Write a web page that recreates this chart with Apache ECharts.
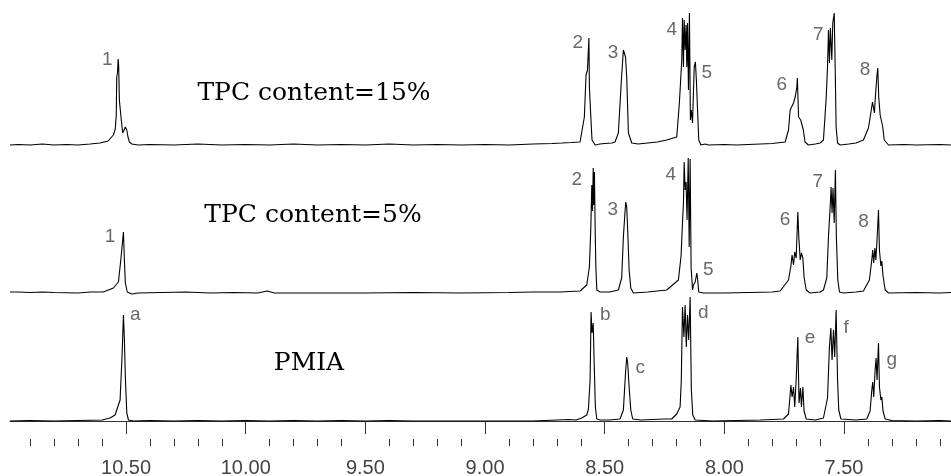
<!DOCTYPE html>
<html>
<head>
<meta charset="utf-8">
<style>html,body{margin:0;padding:0;background:#fff;}#chart{width:951px;height:476px;}</style>
<script src="https://cdn.jsdelivr.net/npm/echarts@6/dist/echarts.min.js"></script>
</head>
<body>
<div id="chart"></div>
<script>
// chemical shift (ppm), intensity (arbitrary units) for each spectrum
var top15 = [
[10.985,0],[10.95,0.5],[10.90,0],[10.85,1],[10.80,0],[10.75,0.5],[10.70,0],[10.65,1],[10.609,2],[10.575,4],[10.553,10],[10.545,16],[10.541,30],[10.539,68],[10.536,72],[10.533,86],[10.531,80],[10.528,45],[10.525,43],[10.520,25],[10.514,12],[10.508,14],[10.503,18],[10.500,19],[10.497,15],[10.492,8],[10.486,3],[10.476,1],[10.45,0],[10.40,0.5],[10.30,0],[10.20,1],[10.10,0],[10.00,0.5],[9.90,0],[9.80,1],[9.70,0],[9.60,0.5],[9.50,0],[9.40,1],[9.30,0],[9.20,0.5],[9.10,0],[9.00,0.5],[8.90,0],[8.80,1],[8.72,1.5],[8.679,2],[8.64,2.5],[8.603,3],[8.585,28],[8.578,70],[8.572,75],[8.566,107],[8.564,58],[8.558,28],[8.553,5],[8.540,0],[8.52,1],[8.50,1.5],[8.47,2],[8.457,3],[8.443,12],[8.429,70],[8.422,95],[8.418,97],[8.413,88],[8.408,68],[8.401,12],[8.387,2],[8.36,1],[8.32,2],[8.28,3],[8.241,5],[8.199,8],[8.188,42],[8.178,85],[8.175,127],[8.171,78],[8.168,125],[8.164,95],[8.160,120],[8.157,78],[8.154,122],[8.150,55],[8.146,132],[8.142,25],[8.138,35],[8.133,22],[8.126,78],[8.121,83],[8.117,65],[8.112,35],[8.107,5],[8.098,0],[8.080,1],[8.073,3],[8.067,0],[8.00,0.5],[7.95,0],[7.90,0.5],[7.85,1],[7.80,1.5],[7.746,3],[7.732,15],[7.725,35],[7.718,37],[7.711,42],[7.704,48],[7.697,58],[7.695,67],[7.690,28],[7.686,30],[7.681,25],[7.676,27],[7.670,15],[7.663,3],[7.649,0],[7.62,1],[7.60,2],[7.586,5],[7.575,45],[7.569,78],[7.565,115],[7.561,82],[7.557,117],[7.551,85],[7.547,122],[7.541,132],[7.537,78],[7.533,18],[7.527,2],[7.516,0],[7.48,1],[7.45,2],[7.419,5],[7.398,17],[7.388,32],[7.381,43],[7.377,45],[7.373,32],[7.369,48],[7.363,68],[7.359,77],[7.355,48],[7.349,30],[7.342,30],[7.338,18],[7.332,5],[7.314,0],[7.25,0.5],[7.20,0],[7.10,0.5],[7.053,0]
];
var mid5 = [
[10.985,1],[10.95,1],[10.90,0.5],[10.85,1],[10.80,0.5],[10.70,0],[10.65,1],[10.595,1],[10.553,5],[10.532,11],[10.522,33],[10.518,35],[10.511,61],[10.507,33],[10.503,10],[10.495,1],[10.476,-1],[10.45,0],[10.35,0.5],[10.25,1],[10.15,0],[10.05,0.5],[9.95,0],[9.91,2],[9.88,0],[9.70,0],[9.50,0],[9.30,0.5],[9.10,0],[8.90,0.5],[8.80,1],[8.686,1],[8.603,2],[8.575,8],[8.564,26],[8.558,65],[8.554,108],[8.551,82],[8.548,125],[8.546,88],[8.543,121],[8.540,66],[8.537,26],[8.533,3],[8.519,1],[8.48,1],[8.443,3],[8.429,15],[8.422,56],[8.416,78],[8.412,91],[8.408,86],[8.404,63],[8.398,23],[8.391,5],[8.380,0],[8.32,1],[8.28,2],[8.241,3],[8.192,13],[8.181,37],[8.175,70],[8.171,90],[8.168,131],[8.164,103],[8.160,111],[8.156,73],[8.151,135],[8.147,46],[8.143,134],[8.139,26],[8.133,3],[8.129,8],[8.122,11],[8.115,20],[8.111,12],[8.107,1],[8.088,0],[8.00,0],[7.90,0.5],[7.80,1],[7.767,2],[7.732,13],[7.722,27],[7.717,38],[7.711,28],[7.706,41],[7.700,35],[7.693,81],[7.689,56],[7.683,33],[7.678,40],[7.672,35],[7.667,16],[7.658,3],[7.642,0],[7.60,1],[7.586,3],[7.572,15],[7.565,56],[7.558,86],[7.554,106],[7.550,80],[7.546,105],[7.541,70],[7.536,123],[7.532,56],[7.526,13],[7.519,1],[7.503,0],[7.45,1],[7.419,2],[7.394,13],[7.384,33],[7.380,43],[7.376,30],[7.371,45],[7.367,33],[7.362,53],[7.356,83],[7.352,43],[7.346,27],[7.342,32],[7.337,17],[7.328,3],[7.314,0],[7.20,0.5],[7.10,0],[7.053,0.5]
];
var pmia = [
[10.985,0],[10.90,0.5],[10.80,0],[10.70,0.5],[10.60,1],[10.567,3],[10.546,6],[10.525,21],[10.517,64],[10.511,106],[10.507,81],[10.503,44],[10.497,8],[10.490,1],[10.47,0],[10.40,0.5],[10.30,0],[10.20,0.5],[10.10,0],[10.00,0.5],[9.90,0],[9.80,0.5],[9.70,0],[9.60,0.5],[9.50,0],[9.40,0.5],[9.30,0],[9.20,0],[9.10,0],[9.00,0],[8.90,0],[8.80,0],[8.70,1],[8.65,1.5],[8.62,1],[8.596,3],[8.575,6],[8.568,12],[8.561,41],[8.557,109],[8.553,88],[8.548,98],[8.544,58],[8.539,14],[8.533,2],[8.519,1],[8.48,1],[8.436,2],[8.422,11],[8.413,48],[8.408,64],[8.404,58],[8.398,34],[8.391,11],[8.383,2],[8.35,1],[8.30,1.5],[8.25,2],[8.220,2],[8.199,7],[8.185,14],[8.180,40],[8.175,114],[8.169,84],[8.164,116],[8.159,74],[8.154,106],[8.149,81],[8.143,124],[8.138,31],[8.132,6],[8.122,1],[8.05,0],[7.95,0.5],[7.85,1],[7.80,1.5],[7.753,2],[7.732,7],[7.722,36],[7.717,24],[7.711,34],[7.706,14],[7.700,41],[7.693,84],[7.688,18],[7.682,33],[7.678,14],[7.672,34],[7.667,10],[7.658,2],[7.62,1],[7.586,3],[7.569,23],[7.561,74],[7.555,93],[7.550,61],[7.544,91],[7.539,64],[7.533,111],[7.527,41],[7.522,11],[7.513,2],[7.45,1],[7.405,2],[7.391,10],[7.384,31],[7.380,39],[7.376,24],[7.370,51],[7.366,63],[7.362,41],[7.356,78],[7.352,34],[7.346,21],[7.342,24],[7.337,10],[7.328,2],[7.30,0.5],[7.20,0],[7.10,0.5],[7.053,0]
];
// peak annotations: [text, ppm, intensity]
var top15Labels = [['1',10.579,85],['2',8.612,102],['3',8.465,92],['4',8.220,115],['5',8.073,72],['6',7.760,60],['7',7.608,110],['8',7.412,75]];
var mid5Labels = [['1',10.567,56],['2',8.617,113],['3',8.466,83],['4',8.224,118],['5',8.067,23],['6',7.746,73],['7',7.610,111],['8',7.419,71]];
var pmiaLabels = [['a',10.462,106],['b',8.498,106],['c',8.352,53],['d',8.088,108],['e',7.642,83],['f',7.491,93],['g',7.300,61]];
var spectrumNames = ['TPC content=15%', 'TPC content=5%', 'PMIA'];
var majorTicks = [10.5,10.0,9.5,9.0,8.5,8.0,7.5];
var minorTicks = [10.9,10.8,10.7,10.6,10.4,10.3,10.2,10.1,9.9,9.8,9.7,9.6,9.4,9.3,9.2,9.1,8.9,8.8,8.7,8.6,8.4,8.3,8.2,8.1,7.9,7.8,7.7,7.6,7.4,7.3,7.2,7.1];
var xMin = 7.053, xMax = 10.985;

var narrow = '"Liberation Sans Narrow", "Arial Narrow", "Liberation Sans", sans-serif';
var chart = echarts.init(document.getElementById('chart'), null, {renderer:'canvas'});
var grids = [
  {left:10, right:0, top:0, height:150},
  {left:10, right:0, top:150, height:148},
  {left:10, right:0, top:298, height:128}
].map(function(g){ g.containLabel=false; g.outerBoundsMode='none'; return g; });
var yMax = [145, 143, 123];
function hiddenX(i){
  return {type:'value', gridIndex:i, inverse:true, min:xMin, max:xMax, show:false};
}
var xAxes = [hiddenX(0), hiddenX(1),
  {type:'value', gridIndex:2, inverse:true, min:xMin, max:xMax, position:'bottom', offset:13,
   axisLine:{show:true, lineStyle:{color:'#333', width:1}},
   axisTick:{show:true, length:13, customValues:majorTicks, lineStyle:{color:'#333', width:1}},
   axisLabel:{show:true, customValues:majorTicks, margin:19, color:'#444', fontSize:20,
     fontFamily:narrow, formatter:function(v){return Number(v).toFixed(2);}},
   splitLine:{show:false}},
  {type:'value', gridIndex:2, inverse:true, min:xMin, max:xMax, position:'bottom', offset:13,
   axisLine:{show:false},
   axisTick:{show:true, length:7, customValues:minorTicks, lineStyle:{color:'#333', width:1}},
   axisLabel:{show:false}, splitLine:{show:false}}
];
var yAxes = [0,1,2].map(function(i){
  return {type:'value', gridIndex:i, min:-5, max:yMax[i], show:false};
});
var traces = [top15, mid5, pmia];
var labelSets = [top15Labels, mid5Labels, pmiaLabels];
var series = [];
traces.forEach(function(d,i){
  series.push({type:'line', xAxisIndex:i, yAxisIndex:i, data:d, showSymbol:false, symbol:'none',
    lineStyle:{color:'#000', width:1.1}, silent:true, clip:false, animation:false});
});
labelSets.forEach(function(ls,i){
  series.push({type:'scatter', xAxisIndex:i, yAxisIndex:i, symbolSize:1, silent:true, animation:false,
    itemStyle:{color:'rgba(0,0,0,0)'},
    data: ls.map(function(l){ return {name:l[0], value:[l[1], l[2]]}; }),
    label:{show:true, position:'inside', formatter:'{b}', color:'#444', fontSize:19,
      fontFamily:narrow}});
});
var titlePos = [[314,93],[313,215],[309,363]];
var graphics = spectrumNames.map(function(t,i){
  return {type:'text', x:titlePos[i][0], y:titlePos[i][1], silent:true,
    style:{text:t, fill:'#000', font:'25px "DejaVu Serif", serif', textAlign:'center', textVerticalAlign:'middle'}};
});
chart.setOption({
  animation:false,
  backgroundColor:'#fff',
  grid:grids, xAxis:xAxes, yAxis:yAxes, series:series, graphic:graphics
});
</script>
</body>
</html>
